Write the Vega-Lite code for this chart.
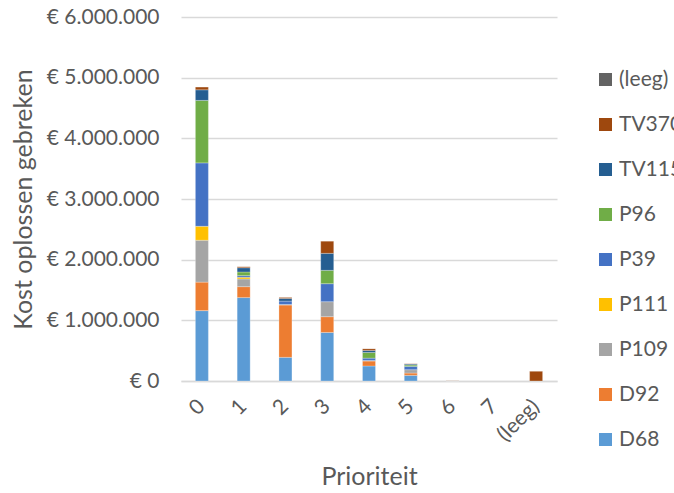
{
  "$schema": "https://vega.github.io/schema/vega-lite/v6.json",
  "width": 376,
  "height": 364,
  "autosize": {"type": "none"},
  "padding": {"left": 181, "top": 17, "right": 117, "bottom": 112},
  "background": "white",
  "data": {
    "values": [
      {"prioriteit": "0", "serie": "D68", "kost": 1160000},
      {"prioriteit": "0", "serie": "D92", "kost": 470000},
      {"prioriteit": "0", "serie": "P109", "kost": 690000},
      {"prioriteit": "0", "serie": "P111", "kost": 230000},
      {"prioriteit": "0", "serie": "P39", "kost": 1045000},
      {"prioriteit": "0", "serie": "P96", "kost": 1030000},
      {"prioriteit": "0", "serie": "TV115", "kost": 175000},
      {"prioriteit": "0", "serie": "TV370", "kost": 45000},
      {"prioriteit": "1", "serie": "D68", "kost": 1375000},
      {"prioriteit": "1", "serie": "D92", "kost": 180000},
      {"prioriteit": "1", "serie": "P109", "kost": 127000},
      {"prioriteit": "1", "serie": "P111", "kost": 28000},
      {"prioriteit": "1", "serie": "P39", "kost": 27000},
      {"prioriteit": "1", "serie": "P96", "kost": 60000},
      {"prioriteit": "1", "serie": "TV115", "kost": 70000},
      {"prioriteit": "1", "serie": "TV370", "kost": 16000},
      {"prioriteit": "2", "serie": "D68", "kost": 390000},
      {"prioriteit": "2", "serie": "D92", "kost": 862000},
      {"prioriteit": "2", "serie": "P109", "kost": 10000},
      {"prioriteit": "2", "serie": "P39", "kost": 55000},
      {"prioriteit": "2", "serie": "TV115", "kost": 44000},
      {"prioriteit": "2", "serie": "TV370", "kost": 16000},
      {"prioriteit": "3", "serie": "D68", "kost": 800000},
      {"prioriteit": "3", "serie": "D92", "kost": 260000},
      {"prioriteit": "3", "serie": "P109", "kost": 247000},
      {"prioriteit": "3", "serie": "P39", "kost": 297000},
      {"prioriteit": "3", "serie": "P96", "kost": 220000},
      {"prioriteit": "3", "serie": "TV115", "kost": 280000},
      {"prioriteit": "3", "serie": "TV370", "kost": 200000},
      {"prioriteit": "4", "serie": "D68", "kost": 247000},
      {"prioriteit": "4", "serie": "D92", "kost": 82000},
      {"prioriteit": "4", "serie": "P109", "kost": 10000},
      {"prioriteit": "4", "serie": "P39", "kost": 38000},
      {"prioriteit": "4", "serie": "P96", "kost": 93000},
      {"prioriteit": "4", "serie": "TV115", "kost": 33000},
      {"prioriteit": "4", "serie": "TV370", "kost": 27000},
      {"prioriteit": "5", "serie": "D68", "kost": 93000},
      {"prioriteit": "5", "serie": "D92", "kost": 38000},
      {"prioriteit": "5", "serie": "P109", "kost": 55000},
      {"prioriteit": "5", "serie": "P39", "kost": 55000},
      {"prioriteit": "5", "serie": "P96", "kost": 22000},
      {"prioriteit": "5", "serie": "TV115", "kost": 16000},
      {"prioriteit": "5", "serie": "TV370", "kost": 5000},
      {"prioriteit": "6", "serie": "D92", "kost": 4000},
      {"prioriteit": "6", "serie": "P109", "kost": 6000},
      {"prioriteit": "(leeg)", "serie": "TV370", "kost": 160000}
    ]
  },
  "transform": [
    {"calculate": "indexof(['D68','D92','P109','P111','P39','P96','TV115','TV370','(leeg)'], datum.serie)", "as": "stapel"}
  ],
  "mark": {"type": "bar", "size": 13, "stroke": "white", "strokeWidth": 0.5, "strokeOpacity": 0.5},
  "encoding": {
    "x": {
      "field": "prioriteit",
      "type": "nominal",
      "scale": {"domain": ["0", "1", "2", "3", "4", "5", "6", "7", "(leeg)"]},
      "axis": {
        "title": "Prioriteit",
        "labelAngle": -45,
        "labelAlign": "right",
        "labelBaseline": "middle",
        "labelPadding": 22,
        "ticks": false,
        "domainColor": "#d9d9d9",
        "domainWidth": 1.5,
        "titlePadding": 20
      }
    },
    "y": {
      "field": "kost",
      "type": "quantitative",
      "aggregate": "sum",
      "scale": {"domain": [0, 6000000]},
      "axis": {
        "title": "Kost oplossen gebreken",
        "values": [0, 1000000, 2000000, 3000000, 4000000, 5000000, 6000000],
        "labelExpr": "'€ ' + replace(format(datum.value, ',.0f'), regexp(',', 'g'), '.')",
        "ticks": false,
        "domain": false,
        "labelPadding": 22,
        "gridColor": "#d9d9d9",
        "gridWidth": 1.5,
        "titlePadding": 10
      }
    },
    "color": {
      "field": "serie",
      "type": "nominal",
      "scale": {
        "domain": ["(leeg)", "TV370", "TV115", "P96", "P39", "P111", "P109", "D92", "D68"],
        "range": ["#636363", "#9E480E", "#255E91", "#70AD47", "#4472C4", "#FFC000", "#A5A5A5", "#ED7D31", "#5B9BD5"]
      },
      "legend": {
        "title": null,
        "orient": "none",
        "legendX": 414,
        "legendY": 52,
        "symbolType": "square",
        "symbolSize": 169,
        "symbolStrokeWidth": 0,
        "rowPadding": 23,
        "labelOffset": 3,
        "labelLimit": 200
      }
    },
    "order": {"field": "stapel", "type": "quantitative", "sort": "ascending"}
  },
  "config": {
    "font": "Lato",
    "view": {"stroke": null},
    "axis": {
      "labelFont": "Lato",
      "labelFontSize": 21,
      "labelColor": "#595959",
      "titleFont": "Lato",
      "titleFontSize": 25,
      "titleFontWeight": "normal",
      "titleColor": "#595959"
    },
    "legend": {
      "labelFont": "Lato",
      "labelFontSize": 21,
      "labelColor": "#595959"
    }
  }
}
